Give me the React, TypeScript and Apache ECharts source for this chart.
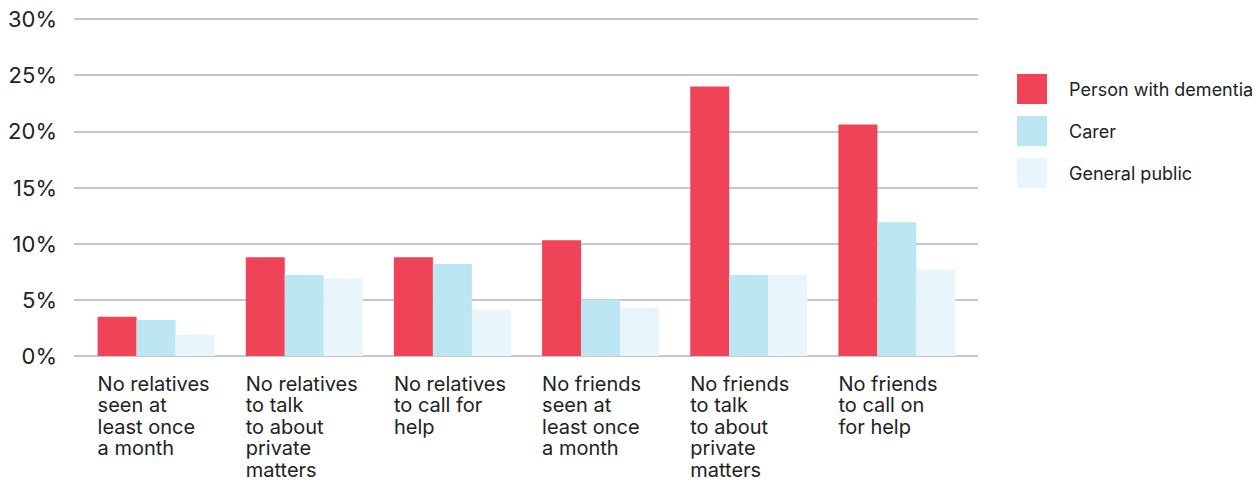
import React, { useEffect, useRef } from "react";
import * as echarts from "echarts";

const categories = [
  "No relatives\nseen at\nleast once\na month",
  "No relatives\nto talk\nto about\nprivate\nmatters",
  "No relatives\nto call for\nhelp",
  "No friends\nseen at\nleast once\na month",
  "No friends\nto talk\nto about\nprivate\nmatters",
  "No friends\nto call on\nfor help",
];
const seriesNames = ["Person with dementia", "Carer", "General public"];
const personWithDementia = [3.5, 8.8, 8.8, 10.3, 24.0, 20.6];
const carer = [3.2, 7.2, 8.2, 5.0, 7.2, 11.9];
const generalPublic = [1.9, 6.9, 4.1, 4.3, 7.2, 7.7];
const yTicks = [0, 5, 10, 15, 20, 25, 30];
const colors = ["#EF4457", "#BCE6F2", "#E8F5FA"];

const FONT = "Inter, 'Noto Sans', sans-serif";

export default function App() {
  const ref = useRef<HTMLDivElement>(null);
  useEffect(() => {
    if (!ref.current) return;
    const chart = echarts.init(ref.current, null, { renderer: "svg" });
    const yMax = yTicks[yTicks.length - 1];
    const yInterval = yTicks[1] - yTicks[0];
    chart.setOption({
      animation: false,
      textStyle: { fontFamily: FONT },
      legend: {
        orient: "vertical",
        left: 1012,
        top: 69,
        itemWidth: 30,
        itemHeight: 30,
        itemGap: 12,
        icon: "rect",
        data: seriesNames,
        textStyle: {
          fontFamily: FONT,
          fontSize: 18,
          color: "#222",
          padding: [0, 0, 0, 17],
        },
      },
      grid: [
        { left: 74, right: 282, top: 19, bottom: 126 },
        { left: 82, right: 289, top: 19, bottom: 126 },
      ],
      xAxis: [
        {
          type: "value",
          gridIndex: 0,
          show: false,
          min: 0,
          max: 1,
        },
        {
          type: "category",
          gridIndex: 1,
          data: categories,
          axisLine: { show: false },
          axisTick: { show: false },
          axisLabel: {
            interval: 0,
            margin: 17,
            align: "center",
            verticalAlign: "top",
            color: "#222",
            fontFamily: FONT,
            fontSize: 20,
            lineHeight: 21.5,
            formatter: (v: string) =>
              v
                .split("\n")
                .map((l) => `{a|${l}}`)
                .join("\n"),
            rich: {
              a: {
                width: 117,
                align: "left",
                fontFamily: FONT,
                fontSize: 20,
                lineHeight: 21.5,
                color: "#222",
              },
            },
          },
        },
      ],
      yAxis: [
        {
          type: "value",
          gridIndex: 0,
          min: 0,
          max: yMax,
          interval: yInterval,
          axisLine: { show: false },
          axisTick: { show: false },
          splitLine: { lineStyle: { color: "#b4b4b4", width: 1.5 } },
          axisLabel: {
            margin: 17,
            color: "#222",
            fontFamily: FONT,
            fontSize: 22,
            formatter: (v: number) => `${v}%`,
          },
        },
        {
          type: "value",
          gridIndex: 1,
          min: 0,
          max: yMax,
          interval: yInterval,
          show: false,
          splitLine: { show: false },
        },
      ],
      series: [personWithDementia, carer, generalPublic].map((d, i) => ({
        name: seriesNames[i],
        type: "bar",
        xAxisIndex: 1,
        yAxisIndex: 1,
        data: d,
        barWidth: 39,
        barGap: "0%",
        itemStyle: { color: colors[i] },
      })),
    });
    return () => chart.dispose();
  }, []);
  return (
    <div
      ref={ref}
      style={{ position: "fixed", left: 0, top: 0, width: 1260, height: 482, background: "#fff" }}
    />
  );
}
